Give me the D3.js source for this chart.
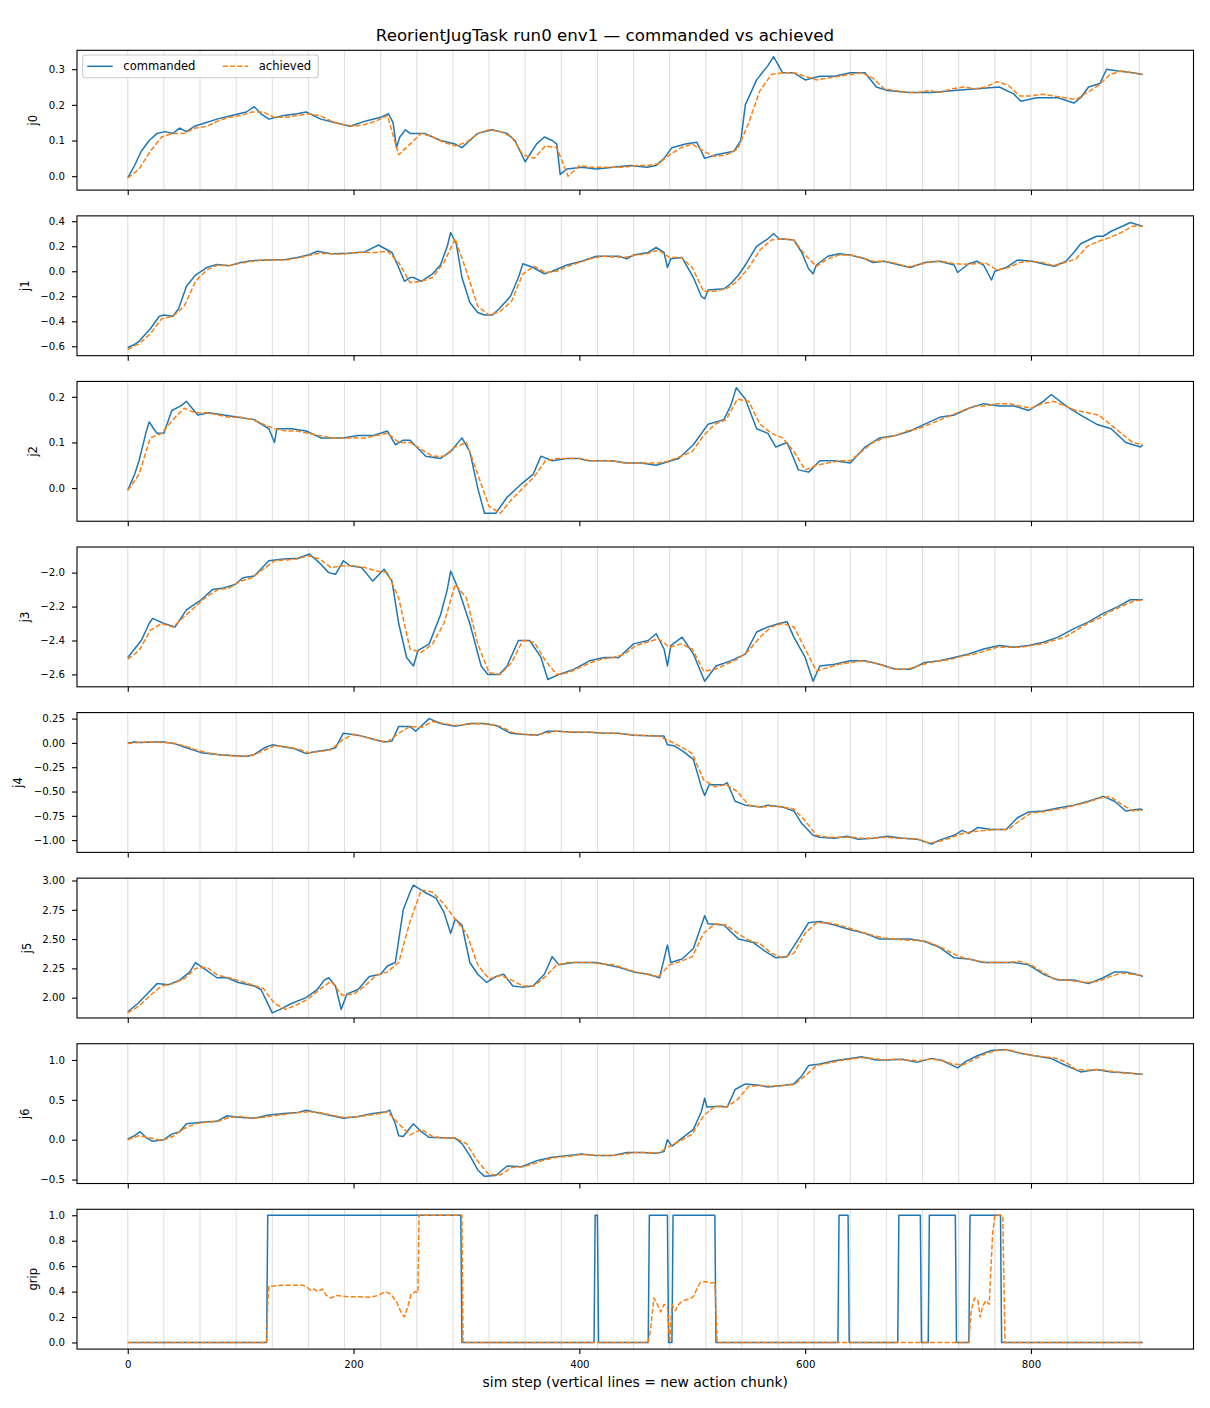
<!DOCTYPE html>
<html>
<head>
<meta charset="utf-8">
<title>ReorientJugTask run0 env1 — commanded vs achieved</title>
<script src="https://cdn.jsdelivr.net/npm/d3@7"></script>
<style>
  html, body { margin: 0; padding: 0; background: #fff; }
  svg { display: block; }
  text { font-family: "DejaVu Sans", sans-serif; fill: #000; }
</style>
</head>
<body>
<div id="chart"></div>
<script>
// Commanded joint targets as [sim step, value] at the visible turning points.
const j0Cmd = [[0,-0.005],[6,0.03],[12,0.07],[19,0.10],[26,0.12],[33,0.125],[40,0.12],[46,0.135],[52,0.125],[59,0.14],[69,0.15],[79,0.16],[92,0.17],[105,0.18],[112,0.195],[118,0.175],[125,0.16],[138,0.17],[150,0.175],[158,0.18],[171,0.16],[184,0.15],[197,0.14],[211,0.155],[224,0.165],[231,0.175],[235,0.15],[238,0.08],[241,0.11],[246,0.13],[250,0.12],[263,0.12],[277,0.10],[290,0.09],[296,0.08],[303,0.10],[310,0.12],[323,0.13],[336,0.12],[343,0.10],[352,0.04],[357,0.065],[362,0.09],[369,0.11],[376,0.10],[380,0.09],[383,0.005],[389,0.02],[402,0.025],[415,0.02],[430,0.025],[445,0.03],[460,0.025],[468,0.03],[475,0.05],[482,0.08],[494,0.09],[504,0.095],[508,0.07],[511,0.05],[521,0.06],[537,0.07],[543,0.1],[547,0.2],[557,0.27],[567,0.31],[572,0.335],[580,0.29],[590,0.29],[600,0.27],[613,0.28],[626,0.28],[640,0.29],[653,0.29],[663,0.25],[673,0.24],[692,0.235],[712,0.235],[732,0.24],[752,0.245],[772,0.25],[785,0.23],[791,0.21],[805,0.22],[824,0.22],[838,0.205],[844,0.22],[851,0.25],[861,0.26],[867,0.30],[877,0.295],[890,0.29],[899,0.285]];
const j1Cmd = [[0,-0.61],[5,-0.59],[10,-0.56],[20,-0.46],[28,-0.36],[32,-0.35],[40,-0.36],[45,-0.30],[52,-0.12],[60,-0.03],[70,0.03],[79,0.055],[90,0.045],[100,0.07],[110,0.085],[125,0.09],[140,0.095],[150,0.11],[160,0.13],[168,0.16],[180,0.14],[195,0.145],[210,0.155],[222,0.21],[234,0.15],[240,0.03],[245,-0.08],[250,-0.05],[253,-0.05],[260,-0.08],[270,-0.02],[277,0.05],[283,0.2],[286,0.31],[291,0.22],[296,-0.05],[303,-0.25],[310,-0.33],[316,-0.35],[323,-0.35],[329,-0.3],[339,-0.2],[346,-0.05],[350,0.06],[359,0.03],[369,-0.02],[376,0.0],[389,0.05],[402,0.08],[415,0.12],[435,0.12],[442,0.1],[448,0.13],[461,0.15],[468,0.19],[475,0.15],[478,0.03],[481,0.1],[491,0.11],[501,-0.05],[508,-0.2],[511,-0.22],[514,-0.15],[528,-0.14],[534,-0.1],[541,-0.03],[547,0.05],[557,0.2],[567,0.26],[572,0.3],[577,0.26],[590,0.25],[597,0.15],[603,0.02],[607,-0.02],[610,0.05],[620,0.12],[630,0.14],[640,0.13],[653,0.1],[660,0.07],[670,0.08],[679,0.06],[693,0.03],[706,0.07],[719,0.08],[732,0.05],[735,-0.01],[745,0.06],[752,0.08],[758,0.05],[765,-0.07],[768,0.0],[778,0.03],[788,0.09],[801,0.08],[815,0.05],[821,0.04],[831,0.08],[838,0.15],[844,0.22],[858,0.28],[864,0.28],[871,0.32],[881,0.36],[888,0.39],[895,0.37],[899,0.36]];
const j2Cmd = [[0,-0.005],[6,0.03],[10,0.06],[16,0.12],[19,0.145],[23,0.13],[26,0.12],[32,0.12],[39,0.17],[47,0.18],[52,0.19],[57,0.175],[62,0.16],[72,0.165],[85,0.16],[98,0.155],[112,0.15],[125,0.13],[130,0.10],[132,0.13],[145,0.13],[158,0.125],[171,0.11],[191,0.11],[204,0.115],[217,0.115],[230,0.125],[237,0.095],[244,0.105],[250,0.105],[264,0.07],[277,0.065],[286,0.08],[296,0.11],[303,0.08],[310,0.0],[316,-0.055],[326,-0.055],[336,-0.02],[349,0.01],[359,0.03],[366,0.07],[376,0.06],[389,0.065],[400,0.065],[408,0.06],[415,0.06],[428,0.06],[442,0.055],[455,0.055],[468,0.05],[488,0.065],[501,0.095],[514,0.14],[528,0.15],[534,0.18],[539,0.22],[547,0.195],[557,0.13],[567,0.12],[574,0.09],[584,0.1],[594,0.04],[603,0.035],[613,0.06],[626,0.06],[640,0.055],[653,0.09],[666,0.11],[680,0.115],[693,0.125],[706,0.14],[719,0.155],[732,0.16],[745,0.175],[758,0.185],[772,0.18],[785,0.18],[798,0.17],[811,0.19],[818,0.205],[831,0.18],[844,0.16],[858,0.14],[871,0.13],[884,0.1],[897,0.09],[899,0.095]];
const j3Cmd = [[0,-2.5],[6,-2.45],[12,-2.4],[19,-2.3],[22,-2.27],[32,-2.3],[42,-2.32],[52,-2.22],[65,-2.16],[75,-2.1],[85,-2.09],[95,-2.07],[102,-2.03],[112,-2.02],[125,-1.93],[138,-1.92],[151,-1.915],[161,-1.89],[171,-1.95],[178,-2.0],[184,-2.01],[191,-1.93],[197,-1.96],[207,-1.97],[217,-2.05],[227,-1.98],[234,-2.05],[240,-2.3],[247,-2.5],[253,-2.55],[257,-2.46],[267,-2.42],[277,-2.25],[283,-2.1],[286,-1.99],[293,-2.1],[303,-2.3],[313,-2.55],[319,-2.6],[329,-2.6],[336,-2.55],[346,-2.4],[356,-2.4],[366,-2.5],[372,-2.63],[382,-2.6],[395,-2.57],[409,-2.52],[422,-2.5],[435,-2.5],[448,-2.42],[461,-2.4],[468,-2.36],[475,-2.45],[478,-2.55],[481,-2.43],[491,-2.38],[501,-2.48],[511,-2.64],[521,-2.55],[534,-2.52],[547,-2.48],[557,-2.35],[567,-2.32],[577,-2.3],[584,-2.29],[590,-2.38],[600,-2.5],[607,-2.64],[613,-2.55],[626,-2.54],[640,-2.52],[653,-2.52],[666,-2.54],[680,-2.57],[693,-2.57],[706,-2.53],[719,-2.52],[732,-2.5],[745,-2.48],[758,-2.45],[772,-2.43],[785,-2.44],[798,-2.43],[811,-2.41],[824,-2.38],[838,-2.33],[851,-2.29],[864,-2.24],[877,-2.2],[888,-2.16],[899,-2.16]];
const j4Cmd = [[0,0.0],[6,0.01],[12,0.005],[22,0.01],[32,0.01],[42,-0.01],[52,-0.05],[65,-0.1],[79,-0.12],[92,-0.13],[105,-0.14],[112,-0.12],[121,-0.05],[128,-0.02],[138,-0.04],[148,-0.06],[158,-0.11],[165,-0.09],[178,-0.07],[184,-0.05],[191,0.1],[204,0.08],[217,0.04],[227,0.01],[234,0.02],[240,0.17],[250,0.17],[255,0.12],[267,0.25],[277,0.2],[290,0.17],[303,0.2],[316,0.2],[326,0.18],[339,0.1],[349,0.09],[363,0.08],[372,0.12],[382,0.12],[395,0.11],[409,0.11],[422,0.1],[435,0.1],[448,0.08],[468,0.07],[475,0.07],[478,-0.02],[484,-0.03],[491,-0.08],[501,-0.17],[508,-0.45],[511,-0.54],[515,-0.43],[528,-0.43],[531,-0.41],[538,-0.6],[547,-0.64],[561,-0.66],[567,-0.64],[580,-0.66],[590,-0.7],[597,-0.83],[607,-0.95],[613,-0.97],[626,-0.98],[637,-0.96],[647,-0.99],[660,-0.98],[673,-0.96],[686,-0.98],[699,-0.99],[712,-1.04],[719,-1.0],[732,-0.95],[739,-0.9],[745,-0.93],[753,-0.87],[765,-0.89],[778,-0.89],[788,-0.77],[798,-0.71],[811,-0.7],[824,-0.67],[838,-0.64],[851,-0.6],[864,-0.55],[874,-0.6],[884,-0.7],[897,-0.68],[899,-0.69]];
const j5Cmd = [[0,1.88],[9,1.95],[19,2.05],[26,2.12],[36,2.11],[46,2.15],[55,2.22],[60,2.3],[69,2.24],[79,2.17],[88,2.17],[98,2.13],[112,2.1],[118,2.07],[125,1.93],[128,1.87],[135,1.9],[145,1.95],[158,2.0],[168,2.07],[174,2.15],[178,2.17],[184,2.1],[189,1.9],[194,2.03],[204,2.07],[214,2.18],[224,2.2],[230,2.27],[237,2.3],[244,2.75],[250,2.9],[253,2.96],[263,2.9],[273,2.85],[280,2.73],[286,2.55],[290,2.67],[296,2.62],[303,2.3],[310,2.2],[318,2.13],[326,2.18],[333,2.2],[341,2.1],[349,2.09],[359,2.1],[369,2.2],[376,2.35],[382,2.28],[395,2.3],[415,2.3],[435,2.26],[448,2.22],[461,2.2],[471,2.17],[478,2.45],[481,2.3],[491,2.33],[501,2.42],[511,2.7],[514,2.63],[528,2.62],[541,2.5],[554,2.47],[564,2.4],[574,2.34],[584,2.35],[594,2.5],[603,2.64],[613,2.65],[626,2.62],[640,2.58],[653,2.55],[666,2.5],[680,2.5],[693,2.5],[706,2.48],[719,2.43],[732,2.34],[745,2.33],[758,2.3],[772,2.3],[785,2.3],[798,2.28],[811,2.2],[824,2.15],[838,2.15],[851,2.12],[864,2.17],[874,2.22],[884,2.22],[897,2.19],[899,2.18]];
const j6Cmd = [[0,0.01],[6,0.05],[11,0.1],[16,0.03],[22,-0.02],[32,0.0],[39,0.07],[46,0.1],[52,0.2],[65,0.22],[79,0.23],[88,0.3],[98,0.28],[112,0.27],[125,0.31],[138,0.33],[151,0.34],[158,0.37],[171,0.33],[184,0.29],[191,0.27],[204,0.29],[217,0.33],[229,0.35],[232,0.37],[237,0.2],[240,0.05],[244,0.04],[253,0.2],[260,0.1],[267,0.03],[283,0.02],[290,0.02],[296,-0.05],[303,-0.2],[310,-0.38],[316,-0.46],[326,-0.45],[336,-0.33],[349,-0.34],[363,-0.26],[376,-0.22],[389,-0.2],[402,-0.18],[415,-0.2],[429,-0.2],[442,-0.16],[455,-0.16],[468,-0.17],[475,-0.15],[478,0.0],[482,-0.08],[491,0.02],[501,0.13],[508,0.35],[511,0.52],[513,0.41],[525,0.42],[531,0.41],[538,0.63],[547,0.7],[561,0.68],[567,0.66],[580,0.68],[590,0.7],[597,0.8],[603,0.93],[613,0.95],[626,0.99],[640,1.02],[650,1.04],[663,1.0],[673,1.0],[686,1.01],[699,0.97],[712,1.02],[722,0.99],[735,0.9],[742,0.98],[752,1.05],[765,1.12],[778,1.13],[791,1.08],[805,1.05],[818,1.02],[828,0.95],[844,0.85],[858,0.88],[871,0.85],[884,0.84],[897,0.82],[899,0.82]];

// Achieved joint positions, read every 10 sim steps.
const gridSteps = [0,10,20,30,40,50,60,70,80,90,100,110,120,130,140,150,160,170,180,190,200,210,220,230,240,250,260,270,280,290,300,310,320,330,340,350,360,370,380,390,400,410,420,430,440,450,460,470,480,490,500,510,520,530,540,550,560,570,580,590,600,610,620,630,640,650,660,670,680,690,700,710,720,730,740,750,760,770,780,790,800,810,820,830,840,850,860,870,880,890,899];
const j0Ach = [-0.005,0.02,0.07,0.11,0.12,0.12,0.135,0.14,0.155,0.165, 0.17,0.18,0.18,0.165,0.165,0.17,0.175,0.17,0.155,0.145, 0.14,0.145,0.155,0.17,0.06,0.09,0.12,0.11,0.095,0.085, 0.095,0.12,0.13,0.125,0.11,0.06,0.05,0.085,0.08,0.0, 0.03,0.025,0.025,0.025,0.025,0.03,0.03,0.035,0.06,0.08, 0.09,0.07,0.055,0.06,0.075,0.15,0.24,0.285,0.29,0.29, 0.28,0.27,0.275,0.28,0.285,0.29,0.275,0.245,0.24,0.235, 0.235,0.24,0.235,0.245,0.25,0.245,0.25,0.265,0.255,0.225, 0.225,0.23,0.225,0.22,0.215,0.235,0.255,0.285,0.295,0.29, 0.285];
const j1Ach = [-0.625,-0.58,-0.5,-0.38,-0.36,-0.28,-0.08,0.01,0.05,0.045, 0.065,0.08,0.09,0.09,0.09,0.105,0.125,0.145,0.14,0.135, 0.15,0.15,0.15,0.16,0.07,-0.09,-0.08,-0.05,0.07,0.26, 0.0,-0.28,-0.35,-0.32,-0.24,-0.02,0.04,-0.01,0.0,0.04, 0.07,0.1,0.12,0.115,0.11,0.13,0.14,0.17,0.11,0.11, 0.03,-0.16,-0.16,-0.14,-0.08,0.03,0.17,0.25,0.26,0.25, 0.13,0.04,0.1,0.13,0.13,0.11,0.08,0.08,0.065,0.035, 0.05,0.075,0.08,0.065,0.055,0.06,0.065,0.01,0.03,0.07, 0.08,0.07,0.045,0.07,0.1,0.2,0.24,0.27,0.31,0.36, 0.36];
const j2Ach = [-0.005,0.03,0.11,0.12,0.15,0.175,0.165,0.165,0.16,0.155, 0.155,0.15,0.14,0.13,0.125,0.125,0.12,0.115,0.11,0.11, 0.11,0.11,0.115,0.12,0.1,0.1,0.085,0.07,0.07,0.09, 0.1,0.03,-0.04,-0.055,-0.025,0.0,0.025,0.06,0.065,0.065, 0.065,0.06,0.06,0.06,0.055,0.055,0.055,0.055,0.06,0.07, 0.08,0.115,0.14,0.15,0.195,0.19,0.14,0.12,0.11,0.08, 0.04,0.05,0.055,0.06,0.06,0.08,0.1,0.11,0.115,0.125, 0.13,0.14,0.15,0.16,0.17,0.18,0.18,0.185,0.185,0.18, 0.175,0.185,0.19,0.18,0.17,0.165,0.16,0.14,0.12,0.1, 0.095];
const j3Ach = [-2.51,-2.46,-2.34,-2.3,-2.32,-2.26,-2.2,-2.14,-2.1,-2.09, -2.05,-2.03,-1.98,-1.93,-1.925,-1.92,-1.9,-1.92,-1.97,-1.96, -1.96,-1.97,-1.99,-2.0,-2.15,-2.45,-2.47,-2.42,-2.3,-2.07, -2.15,-2.42,-2.59,-2.6,-2.53,-2.4,-2.41,-2.52,-2.6,-2.59, -2.56,-2.53,-2.51,-2.5,-2.48,-2.43,-2.41,-2.39,-2.44,-2.42, -2.45,-2.58,-2.57,-2.54,-2.51,-2.46,-2.38,-2.32,-2.3,-2.32, -2.45,-2.58,-2.56,-2.54,-2.53,-2.52,-2.53,-2.55,-2.57,-2.57, -2.55,-2.53,-2.52,-2.51,-2.49,-2.48,-2.46,-2.44,-2.44,-2.44, -2.43,-2.42,-2.4,-2.38,-2.34,-2.3,-2.27,-2.23,-2.2,-2.17, -2.16];
const j4Ach = [-0.005,0.005,0.01,0.005,0.0,-0.03,-0.07,-0.1,-0.12,-0.13, -0.14,-0.13,-0.08,-0.03,-0.04,-0.06,-0.1,-0.09,-0.07,0.03, 0.09,0.06,0.03,0.01,0.1,0.17,0.16,0.22,0.2,0.18, 0.19,0.2,0.19,0.17,0.11,0.09,0.08,0.1,0.12,0.115, 0.11,0.11,0.1,0.1,0.09,0.08,0.075,0.07,0.02,-0.04, -0.11,-0.38,-0.45,-0.43,-0.5,-0.64,-0.66,-0.65,-0.66,-0.68, -0.8,-0.95,-0.97,-0.97,-0.97,-0.98,-0.98,-0.97,-0.98,-0.98, -0.99,-1.03,-1.01,-0.97,-0.93,-0.91,-0.9,-0.89,-0.89,-0.8, -0.72,-0.71,-0.69,-0.67,-0.64,-0.61,-0.57,-0.55,-0.63,-0.7, -0.69];
const j5Ach = [1.87,1.93,2.02,2.1,2.12,2.16,2.25,2.26,2.19,2.17, 2.14,2.11,2.08,1.95,1.9,1.94,1.99,2.07,2.14,2.02, 2.03,2.1,2.19,2.22,2.3,2.65,2.92,2.9,2.8,2.67, 2.55,2.28,2.16,2.19,2.15,2.1,2.1,2.18,2.28,2.3, 2.3,2.3,2.29,2.28,2.25,2.22,2.2,2.18,2.28,2.31, 2.35,2.55,2.63,2.62,2.55,2.49,2.46,2.38,2.34,2.38, 2.55,2.64,2.64,2.62,2.59,2.56,2.53,2.51,2.5,2.49, 2.49,2.47,2.43,2.38,2.34,2.32,2.3,2.3,2.3,2.31, 2.28,2.22,2.16,2.15,2.14,2.13,2.14,2.18,2.21,2.2, 2.19];
const j6Ach = [0.0,0.05,0.02,-0.01,0.04,0.14,0.2,0.22,0.23,0.28, 0.29,0.27,0.28,0.3,0.32,0.34,0.35,0.34,0.31,0.28, 0.28,0.3,0.32,0.35,0.2,0.06,0.13,0.04,0.02,0.02, -0.05,-0.27,-0.44,-0.44,-0.35,-0.34,-0.3,-0.25,-0.22,-0.21, -0.19,-0.19,-0.2,-0.2,-0.18,-0.16,-0.16,-0.17,-0.08,-0.01, 0.07,0.3,0.42,0.41,0.5,0.67,0.68,0.67,0.68,0.69, 0.8,0.93,0.96,0.99,1.01,1.03,1.02,1.0,1.01,1.0, 0.99,1.01,1.0,0.95,0.94,1.01,1.08,1.12,1.13,1.09, 1.06,1.04,1.03,0.98,0.88,0.87,0.88,0.86,0.84,0.83, 0.82];

// Gripper: commanded is binary, achieved is the measured opening.
const gripCmdSteps = [0,123,124,295,296,413,414,416,417,461,462,478,479,482,483,520,521,629,630,638,639,682,683,702,703,709,710,733,734,745,746,773,774,899];
const gripCmd      = [0,0,1,1,0,0,1,1,0,0,1,1,0,0,1,1,0,0,1,1,0,0,1,1,0,0,1,1,0,0,1,1,0,0];
const gripAch = [[0,0],[123,0],[124,0.3],[125,0.44],[135,0.45],[145,0.45],[155,0.45],[158,0.44],[162,0.41],[165,0.42],[168,0.40],[172,0.42],[176,0.37],[180,0.35],[185,0.37],[195,0.36],[205,0.36],[215,0.355],[222,0.37],[228,0.4],[233,0.38],[238,0.32],[242,0.24],[245,0.2],[248,0.28],[251,0.38],[255,0.4],[257,0.39],[258,1.0],[296,1.0],[297,0],[461,0],[463,0.1],[466,0.35],[469,0.3],[472,0.24],[475,0.3],[478,0.28],[480,0.0],[482,0.3],[485,0.25],[488,0.3],[492,0.33],[497,0.34],[501,0.36],[504,0.42],[507,0.47],[511,0.48],[515,0.47],[520,0.47],[522,0],[745,0],[747,0.25],[750,0.35],[753,0.33],[755,0.2],[757,0.28],[760,0.33],[763,0.3],[766,0.85],[768,1.0],[775,1.0],[777,0],[899,0]];

// Action chunk boundaries (a new chunk every 32 steps).
const chunkStarts = [0,32,64,96,128,160,192,224,256,288,320,352,384,416,448,480,512,544,576,608,640,672,704,736,768,800,832,864,896];

// Axis ticks
const xTicks = [0, 200, 400, 600, 800];
const j0Ticks = [0.0, 0.1, 0.2, 0.3];
const j1Ticks = [-0.6, -0.4, -0.2, 0.0, 0.2, 0.4];
const j2Ticks = [0.0, 0.1, 0.2];
const j3Ticks = [-2.6, -2.4, -2.2, -2.0];
const j4Ticks = [-1.0, -0.75, -0.5, -0.25, 0.0, 0.25];
const j5Ticks = [2.0, 2.25, 2.5, 2.75, 3.0];
const j6Ticks = [-0.5, 0.0, 0.5, 1.0];
const gripTicks = [0.0, 0.2, 0.4, 0.6, 0.8, 1.0];

const pairs = (steps, vals) => steps.map((s, i) => [s, vals[i]]);

const panels = [
  { name: "j0",   cmd: j0Cmd, ach: pairs(gridSteps, j0Ach), domain: [-0.039, 0.353], ticks: j0Ticks, fmt: ".1f" },
  { name: "j1",   cmd: j1Cmd, ach: pairs(gridSteps, j1Ach), domain: [-0.675, 0.443], ticks: j1Ticks, fmt: ".1f" },
  { name: "j2",   cmd: j2Cmd, ach: pairs(gridSteps, j2Ach), domain: [-0.0725, 0.2336], ticks: j2Ticks, fmt: ".1f" },
  { name: "j3",   cmd: j3Cmd, ach: pairs(gridSteps, j3Ach), domain: [-2.673, -1.849], ticks: j3Ticks, fmt: ".1f" },
  { name: "j4",   cmd: j4Cmd, ach: pairs(gridSteps, j4Ach), domain: [-1.126, 0.312], ticks: j4Ticks, fmt: ".2f" },
  { name: "j5",   cmd: j5Cmd, ach: pairs(gridSteps, j5Ach), domain: [1.827, 3.02], ticks: j5Ticks, fmt: ".2f" },
  { name: "j6",   cmd: j6Cmd, ach: pairs(gridSteps, j6Ach), domain: [-0.55, 1.204], ticks: j6Ticks, fmt: ".1f" },
  { name: "grip", cmd: pairs(gripCmdSteps, gripCmd), ach: gripAch, domain: [-0.052, 1.047], ticks: gripTicks, fmt: ".1f" },
];

const W = 1210, H = 1408;
const plotLeft = 77, plotRight = 1193.5;
const firstTop = 50.3, pitch = 165.57, plotH = 139.8;
const BLUE = "#1f77b4", ORANGE = "#ff7f0e";
const TICK_FS = 10.2;

const svg = d3.select("#chart").append("svg")
  .attr("width", W).attr("height", H)
  .attr("viewBox", `0 0 ${W} ${H}`);
svg.append("rect").attr("width", W).attr("height", H).attr("fill", "#fff");
const defs = svg.append("defs");

const x = d3.scaleLinear().domain([-44.95, 943.95]).range([plotLeft, plotRight]);

panels.forEach((p, i) => {
  const top = firstTop + i * pitch;
  const bottom = top + plotH;
  const y = d3.scaleLinear().domain(p.domain).range([bottom, top]);
  const g = svg.append("g").attr("class", `panel panel-${p.name}`);

  defs.append("clipPath").attr("id", `clip-${i}`)
    .append("rect").attr("x", plotLeft).attr("y", top)
    .attr("width", plotRight - plotLeft).attr("height", plotH);

  const body = g.append("g").attr("clip-path", `url(#clip-${i})`);

  // chunk boundaries
  body.append("g").selectAll("line").data(chunkStarts).join("line")
    .attr("x1", d => x(d)).attr("x2", d => x(d))
    .attr("y1", top).attr("y2", bottom)
    .attr("stroke", "#808080").attr("stroke-opacity", 0.25).attr("stroke-width", 1.1);

  const line = d3.line().x(d => x(d[0])).y(d => y(d[1]));

  body.append("path").datum(p.cmd)
    .attr("fill", "none").attr("stroke", BLUE).attr("stroke-width", 1.5)
    .attr("stroke-linejoin", "round")
    .attr("d", line);

  body.append("path").datum(p.ach)
    .attr("fill", "none").attr("stroke", ORANGE).attr("stroke-width", 1.5)
    .attr("stroke-dasharray", "5.1,2.2")
    .attr("stroke-linejoin", "round")
    .attr("d", line);

  // y axis
  const yAxisG = g.append("g").attr("transform", `translate(${plotLeft},0)`)
    .call(d3.axisLeft(y).tickValues(p.ticks).tickFormat(d3.format(p.fmt)).tickSize(5).tickPadding(7))
    .call(a => a.select(".domain").remove())
    .attr("font-family", "DejaVu Sans, sans-serif").attr("font-size", TICK_FS);
  yAxisG.selectAll("line").attr("stroke", "#000").attr("stroke-width", 1.1);

  // x axis (labels on the bottom panel only)
  const last = i === panels.length - 1;
  const xAxisG = g.append("g").attr("transform", `translate(0,${bottom})`)
    .call(d3.axisBottom(x).tickValues(xTicks).tickFormat(last ? d3.format("d") : () => "").tickSize(5).tickPadding(7))
    .call(a => a.select(".domain").remove())
    .attr("font-family", "DejaVu Sans, sans-serif").attr("font-size", TICK_FS);
  xAxisG.selectAll("line").attr("stroke", "#000").attr("stroke-width", 1.1);

  // frame
  g.append("rect")
    .attr("x", plotLeft).attr("y", top)
    .attr("width", plotRight - plotLeft).attr("height", plotH)
    .attr("fill", "none").attr("stroke", "#000").attr("stroke-width", 1.1);

  // y label placed just left of the widest tick label (bbox is in the axis group's own coords)
  const bb = yAxisG.node().getBBox();
  const ly = (top + bottom) / 2;
  const lx = plotLeft + bb.x - 11.5;
  g.append("text")
    .attr("transform", `translate(${lx},${ly}) rotate(-90)`)
    .attr("text-anchor", "middle")
    .attr("font-size", 11.57)
    .text(p.name);

  if (i === 0) {
    const lg = g.append("g").attr("class", "legend");
    lg.append("rect")
      .attr("x", 82.7).attr("y", 55).attr("width", 235.6).attr("height", 22.7)
      .attr("rx", 2.8).attr("fill", "#fff").attr("fill-opacity", 0.8)
      .attr("stroke", "#cccccc").attr("stroke-width", 1.1);
    const items = [
      { label: "commanded", color: BLUE, dash: null, x0: 87.3 },
      { label: "achieved", color: ORANGE, dash: "5.1,2.2", x0: 222.7 },
    ];
    items.forEach(it => {
      lg.append("line")
        .attr("x1", it.x0).attr("x2", it.x0 + 25.4)
        .attr("y1", 66.3).attr("y2", 66.3)
        .attr("stroke", it.color).attr("stroke-width", 1.5)
        .attr("stroke-dasharray", it.dash);
      lg.append("text")
        .attr("x", it.x0 + 36).attr("y", 70.2)
        .attr("font-size", 11.57)
        .text(it.label);
    });
  }
});

svg.append("text")
  .attr("x", W / 2).attr("y", 40.5)
  .attr("text-anchor", "middle")
  .attr("font-size", 16.67)
  .text("ReorientJugTask run0 env1 — commanded vs achieved");

svg.append("text")
  .attr("x", (plotLeft + plotRight) / 2).attr("y", 1386.5)
  .attr("text-anchor", "middle")
  .attr("font-size", 13.89)
  .text("sim step (vertical lines = new action chunk)");
</script>
</body>
</html>
